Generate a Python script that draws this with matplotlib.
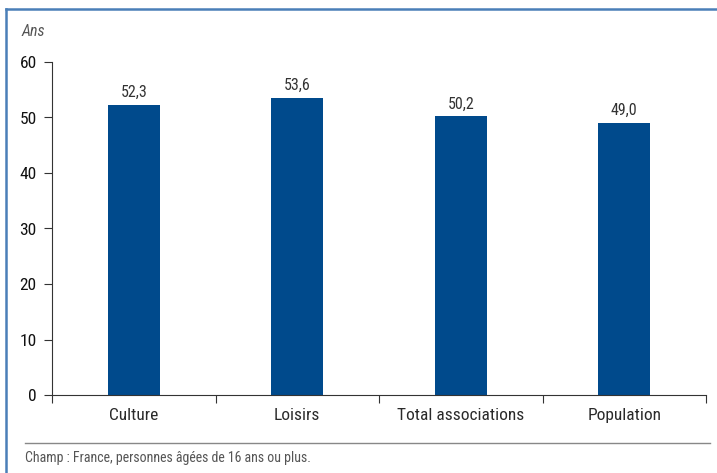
import matplotlib.pyplot as plt
from matplotlib.lines import Line2D

categories = ['Culture', 'Loisirs', 'Total associations', 'Population']
ages = [52.3, 53.6, 50.2, 49.0]
value_labels = ['52,3', '53,6', '50,2', '49,0']
y_ticks = [0, 10, 20, 30, 40, 50, 60]

plt.rcParams['font.family'] = ['Roboto Condensed', 'PT Sans Narrow', 'Open Sans Condensed',
                               'Fira Sans Condensed', 'Asap Condensed',
                               'Liberation Sans Narrow', 'DejaVu Sans']

fig = plt.figure(figsize=(7.17, 4.73), dpi=100)
ax = fig.add_axes([52 / 717, 1 - 395 / 473, (706 - 52) / 717, (395 - 62) / 473])

x = range(len(categories))
bars = ax.bar(x, ages, width=0.32, color='#004a8c', zorder=2)
for b, lab in zip(bars, value_labels):
    ax.text(b.get_x() + b.get_width() / 2, b.get_height() + 0.9, lab,
            ha='center', va='bottom', fontsize=11.5, color='#333333')

ax.set_xlim(-0.5, len(categories) - 0.5)
ax.set_ylim(0, 60)
ax.set_yticks(y_ticks)
ax.tick_params(axis='y', length=6, width=0.8, color='#333333', labelsize=12.5,
               labelcolor='#111111', pad=5)

# ticks at category boundaries, labels centred
ax.set_xticks([i - 0.5 for i in range(len(categories) + 1)])
ax.set_xticklabels([])
ax.set_xticks(list(x), minor=True)
ax.set_xticklabels(categories, minor=True, fontsize=12.5, color='#2a2a2a')
ax.tick_params(axis='x', which='major', length=6, width=0.8, color='#333333')
ax.tick_params(axis='x', which='minor', length=0, pad=9)

for s in ['top', 'right']:
    ax.spines[s].set_visible(False)
for s in ['left', 'bottom']:
    ax.spines[s].set_color('#333333')
    ax.spines[s].set_linewidth(0.8)

fig.text(22 / 717, 1 - 32 / 473, 'Ans', style='italic', fontsize=11.5,
         color='#555555', va='center', ha='left')

# frame and separator
fig.add_artist(Line2D([6 / 717, 6 / 717], [0, 1 - 9.5 / 473], color='#4a7fb8', lw=1.8))
fig.add_artist(Line2D([6 / 717, 1], [1 - 9.5 / 473, 1 - 9.5 / 473], color='#4a7fb8', lw=1.8))
fig.add_artist(Line2D([25 / 717, 710 / 717], [1 - 443 / 473, 1 - 443 / 473], color='#888888', lw=1.0))

fig.text(25 / 717, 1 - 458 / 473, 'Champ : France, personnes âgées de 16 ans ou plus.',
         fontsize=10, color='#555555', va='center', ha='left')

fig.savefig('out.png', dpi=100)
